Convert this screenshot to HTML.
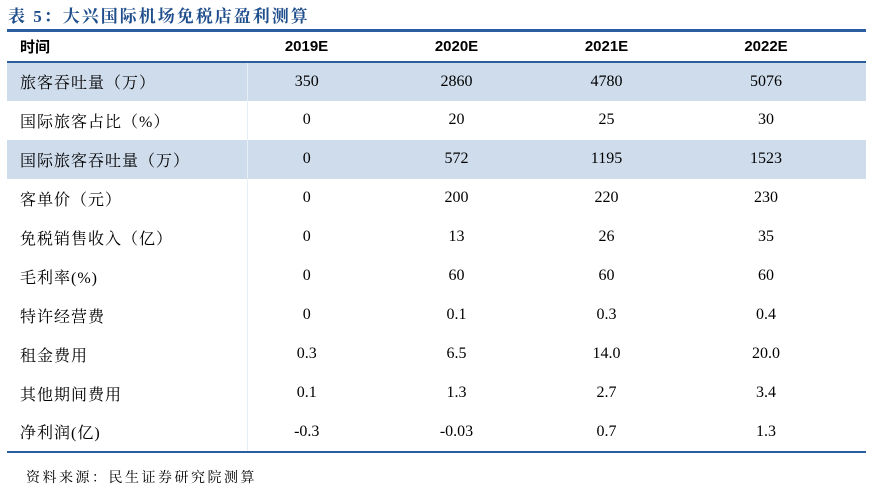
<!DOCTYPE html>
<html><head><meta charset="utf-8"><style>
body{margin:0;width:870px;height:487px;background:#fff;position:relative;overflow:hidden;font-family:"Liberation Serif","Noto Serif CJK SC",serif;color:#000}
.title{position:absolute;left:8px;top:2px;font-size:17px;font-weight:bold;color:#1f4e8c;font-family:"Liberation Serif","Noto Serif CJK SC",serif;letter-spacing:2px}
table{position:absolute;left:7px;top:29px;width:859px;border-collapse:collapse;font-size:16px;table-layout:fixed}
thead tr{height:31px;border-top:3px solid #2a5e9e;border-bottom:2px solid #2a5e9e}
th{font-family:"Liberation Sans","Noto Sans CJK SC",sans-serif;font-weight:bold;font-size:15px;padding-right:32px}
th:first-child{text-align:left;padding-left:13px;padding-right:0}
tbody tr{height:39px}
tbody tr.s{background:#cedcec}
td{text-align:center;padding-right:32px}
td:first-child{text-align:left;padding-left:13px;padding-right:0;border-right:1px solid #e6eef6;letter-spacing:1px}
tbody tr:last-child{border-bottom:2px solid #2a5e9e}
.src{position:absolute;left:26px;top:467px;font-size:14px;letter-spacing:2.5px}
</style></head><body>
<div class="title">表 5：大兴国际机场免税店盈利测算</div>
<table>
<colgroup><col style="width:240px"><col style="width:150px"><col style="width:150px"><col style="width:150px"><col style="width:169px"></colgroup>
<thead><tr><th>时间</th><th>2019E</th><th>2020E</th><th>2021E</th><th>2022E</th></tr></thead>
<tbody>
<tr class="s"><td>旅客吞吐量（万）</td><td>350</td><td>2860</td><td>4780</td><td>5076</td></tr>
<tr><td>国际旅客占比（%）</td><td>0</td><td>20</td><td>25</td><td>30</td></tr>
<tr class="s"><td>国际旅客吞吐量（万）</td><td>0</td><td>572</td><td>1195</td><td>1523</td></tr>
<tr><td>客单价（元）</td><td>0</td><td>200</td><td>220</td><td>230</td></tr>
<tr><td>免税销售收入（亿）</td><td>0</td><td>13</td><td>26</td><td>35</td></tr>
<tr><td>毛利率(%)</td><td>0</td><td>60</td><td>60</td><td>60</td></tr>
<tr><td>特许经营费</td><td>0</td><td>0.1</td><td>0.3</td><td>0.4</td></tr>
<tr><td>租金费用</td><td>0.3</td><td>6.5</td><td>14.0</td><td>20.0</td></tr>
<tr><td>其他期间费用</td><td>0.1</td><td>1.3</td><td>2.7</td><td>3.4</td></tr>
<tr><td>净利润(亿)</td><td>-0.3</td><td>-0.03</td><td>0.7</td><td>1.3</td></tr>
</tbody></table>
<div class="src">资料来源：民生证券研究院测算</div>
</body></html>
